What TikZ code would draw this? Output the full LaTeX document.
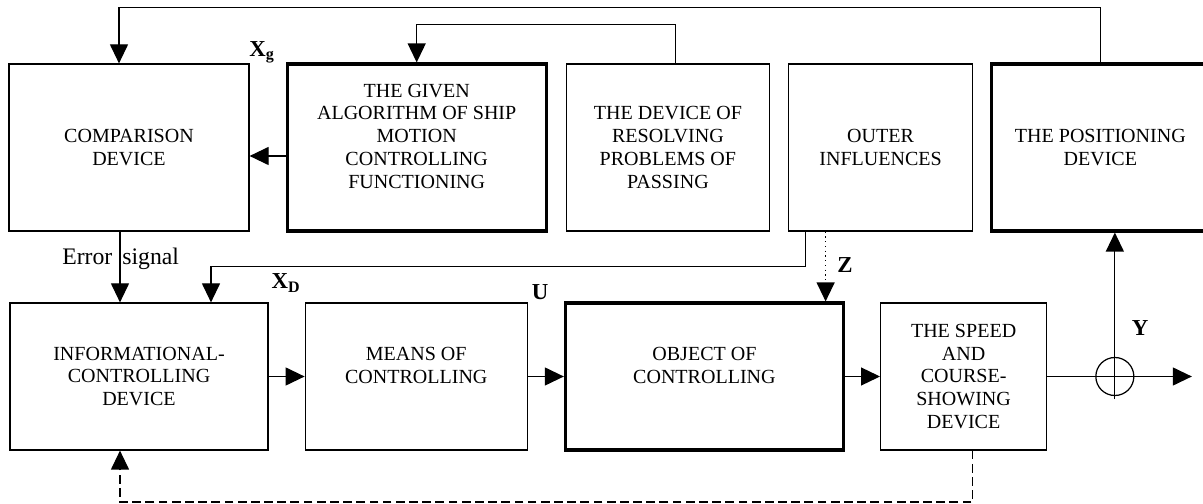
\documentclass[tikz,border=0pt]{standalone}
\usepackage{fontspec}
\setmainfont{Liberation Serif}
\usetikzlibrary{arrows.meta,positioning,calc}
\tikzset{
  >=Stealth,
  every picture/.append style={line width=0.7pt},
  every node/.append style={font=\fontsize{11.4}{13}\selectfont},
}
\tikzset{
  box/.style={draw, align=center, inner sep=2pt},
  arrow/.style={-{Triangle[length=3.8mm,width=3.6mm]}},
  lbl/.style={font=\fontsize{13}{15}\selectfont\bfseries, inner sep=0pt}
}

\begin{document}
\begin{tikzpicture}[
  node distance=7.2mm,
  upper/.style={box, minimum height=33.4mm},
  lower/.style={box, minimum height=29.4mm},
  heavy/.style={line width=1.8pt},
  junction/.style={circle, draw, minimum size=7.6mm, inner sep=0pt},
  side/.style={font=\fontsize{13.5}{15}\selectfont}
]
\useasboundingbox (0,0) rectangle (24.06,-10.08);

% Upper row
\node[upper, minimum width=48mm] (cmp) at (2.58,-2.95) {COMPARISON\\DEVICE};
\node[upper, heavy, minimum width=51.8mm, right=of cmp] (alg) {THE GIVEN\\ALGORITHM OF SHIP\\MOTION\\CONTROLLING\\FUNCTIONING\\~};
\node[upper, minimum width=40.6mm, right=3.6mm of alg] (pass) {THE DEVICE OF\\RESOLVING\\PROBLEMS OF\\PASSING};
\node[upper, minimum width=36.8mm, right=3.6mm of pass] (outer) {OUTER\\INFLUENCES};
\node[upper, heavy, minimum width=43.4mm, right=3.4mm of outer] (pos) {THE POSITIONING\\DEVICE};

% Lower row
\node[lower, minimum width=51.6mm] (info) at (2.78,-7.53) {INFORMATIONAL-\\CONTROLLING\\DEVICE};
\node[lower, minimum width=44.4mm, right=of info] (means) {MEANS OF\\CONTROLLING\\~};
\node[lower, heavy, minimum width=55.6mm, right=of means] (obj) {OBJECT OF\\CONTROLLING\\~};
\node[lower, minimum width=33.2mm, right=7mm of obj] (speed) {THE SPEED\\AND\\COURSE-\\SHOWING\\DEVICE};
\node[junction, right=9.6mm of speed] (sum) {};
\coordinate[right=15.4mm of sum.center] (out);

% Labels
\node[lbl] (xg) at (5.24,-1.04) {X\textsubscript{g}};
\node[lbl] (xd) at (5.72,-5.66) {X\textsubscript{D}};
\node[lbl] (u) at (10.8,-5.84) {U};
\node[lbl] (z) at (16.9,-5.30) {Z};
\node[lbl] (y) at (22.8,-6.56) {Y};

% Forward path
\draw[arrow] (info.east) -- (means.west);
\draw[arrow] (means.east) -- (obj.west);
\draw[arrow] (obj.east) -- (speed.west);
\draw[arrow] (speed.east) -- (out);
\draw[arrow] ([yshift=-0.6mm]sum.south) -- (sum.south |- pos.south);
\draw[arrow] ([yshift=-1.7mm]alg.west) -- ([yshift=-1.7mm]cmp.east);
\draw[arrow] ([xshift=-1.8mm]cmp.south) --
  node[side, pos=0.47, anchor=base east, inner xsep=4pt] {Error}
  node[side, pos=0.47, anchor=base west, inner xsep=1pt] {signal}
  ([xshift=-1.8mm]cmp.south |- info.north);

% Feedback loops
\draw[arrow] (pos.north) -- ++(0,1.1) -| ([xshift=-2mm]cmp.north);
\draw[arrow] ([xshift=1.5mm]pass.north) -- ++(0,0.78) -| (alg.north);
\draw[arrow] ([xshift=-15mm]outer.south) -- ++(0,-0.7) -| ([xshift=14.4mm]info.north);
\draw[arrow, dotted] ([xshift=-11mm]outer.south) -- ([xshift=-11mm]outer.south |- obj.north);
\draw[arrow, dash pattern=on 5pt off 2.5pt] ([xshift=1.8mm]speed.south) -- ++(0,-1.03) -| ([xshift=-3.8mm]info.south);
\end{tikzpicture}
\end{document}
